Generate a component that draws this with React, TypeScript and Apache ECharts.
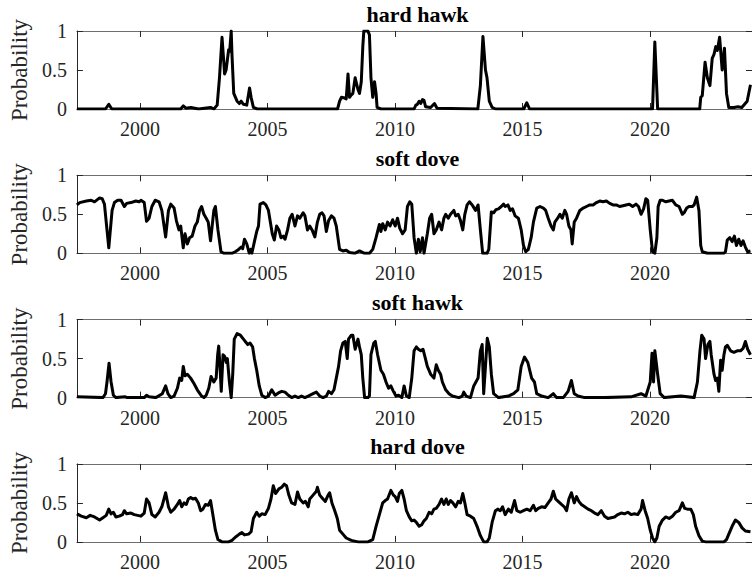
import React, { useEffect, useRef } from "react";
import * as echarts from "echarts";

// Regime probabilities, [decimal year, probability]
const hardHawk: [number, number][] = [
  [1997.53,0],[1998.65,0],[1998.78,0.06],[1998.9,0],[2001.6,0],[2001.7,0.04],[2001.8,0.01],[2002.0,0.02],[2002.3,0],[2002.77,0.02],[2002.9,0],[2003.03,0.05],[2003.12,0.4],[2003.22,0.92],[2003.29,0.6],[2003.32,0.45],[2003.38,0.5],[2003.48,0.76],[2003.52,0.74],[2003.58,1.0],[2003.61,0.7],[2003.68,0.2],[2003.81,0.1],[2003.9,0.07],[2003.97,0.1],[2004.06,0.06],[2004.19,0.05],[2004.3,0.27],[2004.36,0.15],[2004.45,0.02],[2004.6,0],[2007.75,0],[2007.83,0.1],[2007.9,0.15],[2008.03,0.14],[2008.09,0.13],[2008.16,0.45],[2008.22,0.15],[2008.29,0.18],[2008.35,0.2],[2008.44,0.4],[2008.55,0.25],[2008.61,0.2],[2008.68,0.35],[2008.74,0.8],[2008.78,1.0],[2008.94,1.0],[2009.0,0.95],[2009.06,0.4],[2009.13,0.15],[2009.2,0.35],[2009.26,0.2],[2009.3,0.02],[2009.45,0],[2010.75,0],[2010.82,0.05],[2010.88,0.06],[2010.95,0.1],[2011.01,0.07],[2011.08,0.12],[2011.14,0.11],[2011.2,0.03],[2011.4,0.02],[2011.55,0.07],[2011.65,0.01],[2013.25,0],[2013.35,0.3],[2013.45,0.93],[2013.55,0.5],[2013.61,0.4],[2013.7,0.1],[2013.81,0.02],[2013.95,0],[2015.05,0],[2015.17,0.08],[2015.28,0],[2020.1,0],[2020.19,0.86],[2020.3,0],[2021.95,0],[2021.99,0.15],[2022.05,0.17],[2022.16,0.6],[2022.25,0.4],[2022.35,0.3],[2022.44,0.65],[2022.51,0.7],[2022.58,0.8],[2022.64,0.75],[2022.73,0.92],[2022.83,0.5],[2022.92,0.78],[2023.0,0.2],[2023.09,0.02],[2023.3,0.02],[2023.45,0.03],[2023.6,0.02],[2023.81,0.1],[2023.94,0.31],
];

const softDove: [number, number][] = [
  [1997.53,0.62],[1997.64,0.65],[1997.9,0.67],[1998.09,0.68],[1998.22,0.66],[1998.42,0.71],[1998.52,0.7],[1998.61,0.63],[1998.78,0.07],[1998.91,0.55],[1999.0,0.65],[1999.13,0.68],[1999.26,0.68],[1999.39,0.6],[1999.48,0.64],[1999.65,0.65],[1999.84,0.67],[1999.97,0.66],[2000.04,0.68],[2000.17,0.65],[2000.26,0.41],[2000.36,0.45],[2000.47,0.6],[2000.6,0.68],[2000.75,0.66],[2000.86,0.55],[2001.01,0.21],[2001.12,0.55],[2001.21,0.63],[2001.34,0.58],[2001.43,0.42],[2001.53,0.3],[2001.6,0.35],[2001.7,0.07],[2001.77,0.25],[2001.86,0.12],[2001.95,0.2],[2002.05,0.22],[2002.16,0.35],[2002.25,0.4],[2002.34,0.55],[2002.42,0.6],[2002.51,0.5],[2002.6,0.45],[2002.68,0.4],[2002.77,0.16],[2002.9,0.55],[2002.96,0.6],[2003.06,0.3],[2003.18,0.02],[2003.3,0],[2003.61,0],[2003.74,0.02],[2003.87,0.05],[2003.97,0.08],[2004.03,0.06],[2004.1,0.18],[2004.19,0.12],[2004.29,0],[2004.35,0.05],[2004.39,0],[2004.49,0.15],[2004.58,0.28],[2004.65,0.35],[2004.71,0.63],[2004.84,0.65],[2004.94,0.62],[2005.04,0.55],[2005.19,0.25],[2005.27,0.17],[2005.36,0.35],[2005.45,0.3],[2005.53,0.2],[2005.62,0.22],[2005.69,0.18],[2005.79,0.3],[2005.88,0.45],[2005.97,0.5],[2006.08,0.35],[2006.18,0.48],[2006.27,0.45],[2006.4,0.52],[2006.47,0.48],[2006.57,0.3],[2006.66,0.35],[2006.75,0.3],[2006.86,0.21],[2006.96,0.4],[2007.05,0.5],[2007.14,0.52],[2007.22,0.48],[2007.31,0.28],[2007.4,0.42],[2007.51,0.48],[2007.61,0.45],[2007.7,0.35],[2007.83,0.05],[2007.96,0.03],[2008.09,0.04],[2008.22,0.01],[2008.42,0],[2008.61,0.03],[2008.81,0],[2009.0,0],[2009.13,0.05],[2009.26,0.2],[2009.39,0.37],[2009.45,0.28],[2009.52,0.38],[2009.62,0.3],[2009.71,0.4],[2009.81,0.35],[2009.91,0.43],[2010.01,0.35],[2010.1,0.45],[2010.19,0.32],[2010.3,0.25],[2010.4,0.3],[2010.49,0.6],[2010.58,0.66],[2010.66,0.63],[2010.75,0.2],[2010.84,0],[2010.92,0.18],[2010.99,0.02],[2011.08,0.2],[2011.14,0],[2011.27,0.25],[2011.36,0.45],[2011.44,0.5],[2011.53,0.25],[2011.62,0.3],[2011.73,0.4],[2011.83,0.3],[2011.92,0.45],[2011.99,0.5],[2012.09,0.45],[2012.18,0.5],[2012.31,0.55],[2012.38,0.48],[2012.48,0.5],[2012.57,0.42],[2012.66,0.3],[2012.74,0.5],[2012.83,0.62],[2012.92,0.66],[2013.03,0.62],[2013.16,0.55],[2013.26,0.62],[2013.35,0.3],[2013.44,0],[2013.61,0],[2013.68,0.05],[2013.78,0.53],[2013.87,0.52],[2013.96,0.56],[2014.06,0.57],[2014.17,0.6],[2014.26,0.63],[2014.32,0.6],[2014.43,0.62],[2014.52,0.55],[2014.61,0.57],[2014.71,0.48],[2014.84,0.45],[2014.95,0.3],[2015.04,0.1],[2015.13,0.02],[2015.23,0.05],[2015.34,0.2],[2015.43,0.4],[2015.56,0.58],[2015.69,0.6],[2015.82,0.58],[2015.91,0.55],[2016.01,0.45],[2016.12,0.35],[2016.21,0.3],[2016.27,0.4],[2016.38,0.45],[2016.47,0.5],[2016.56,0.45],[2016.66,0.55],[2016.73,0.5],[2016.82,0.35],[2016.9,0.3],[2016.95,0.12],[2017.03,0.4],[2017.12,0.45],[2017.25,0.55],[2017.38,0.58],[2017.51,0.6],[2017.64,0.62],[2017.77,0.62],[2017.9,0.65],[2018.03,0.67],[2018.16,0.66],[2018.29,0.67],[2018.42,0.64],[2018.55,0.62],[2018.68,0.62],[2018.81,0.6],[2018.94,0.61],[2019.06,0.62],[2019.19,0.63],[2019.32,0.6],[2019.45,0.63],[2019.55,0.6],[2019.65,0.5],[2019.75,0.57],[2019.84,0.7],[2019.91,0.68],[2020.01,0.3],[2020.1,0.02],[2020.19,0],[2020.27,0.2],[2020.32,0.6],[2020.4,0.68],[2020.49,0.68],[2020.62,0.66],[2020.75,0.67],[2020.88,0.68],[2021.01,0.62],[2021.14,0.6],[2021.27,0.5],[2021.34,0.52],[2021.44,0.58],[2021.53,0.6],[2021.66,0.6],[2021.73,0.62],[2021.83,0.72],[2021.92,0.55],[2021.99,0.1],[2022.05,0.02],[2022.25,0],[2022.9,0],[2022.96,0.02],[2023.03,0.17],[2023.13,0.2],[2023.22,0.15],[2023.31,0.22],[2023.39,0.1],[2023.48,0.18],[2023.57,0.1],[2023.65,0.16],[2023.74,0.08],[2023.83,0.02],[2023.94,0.03],
];

const softHawk: [number, number][] = [
  [1997.53,0.01],[1998.55,0],[1998.65,0.05],[1998.71,0.2],[1998.79,0.44],[1998.87,0.2],[1998.96,0.03],[1999.06,0],[1999.43,0.01],[1999.5,0],[2000.17,0],[2000.26,0.03],[2000.36,0.01],[2000.62,0],[2000.88,0.05],[2001.01,0.15],[2001.1,0.05],[2001.21,0],[2001.34,0.02],[2001.47,0.12],[2001.56,0.25],[2001.64,0.22],[2001.7,0.4],[2001.77,0.28],[2001.86,0.3],[2001.99,0.25],[2002.12,0.18],[2002.25,0.1],[2002.42,0.02],[2002.51,0],[2002.6,0.03],[2002.7,0.12],[2002.79,0.27],[2002.9,0.2],[2002.99,0.25],[2003.05,0.55],[2003.09,0.66],[2003.14,0.4],[2003.19,0.08],[2003.26,0.55],[2003.32,0.53],[2003.39,0.45],[2003.43,0.5],[2003.51,0.2],[2003.58,0],[2003.64,0.3],[2003.7,0.75],[2003.81,0.82],[2003.94,0.8],[2004.06,0.75],[2004.13,0.72],[2004.23,0.68],[2004.32,0.7],[2004.42,0.65],[2004.49,0.5],[2004.58,0.35],[2004.68,0.15],[2004.78,0.03],[2004.91,0],[2005.04,0.02],[2005.17,0.1],[2005.3,0.03],[2005.43,0.06],[2005.56,0.08],[2005.69,0.07],[2005.82,0.03],[2005.95,0],[2006.08,0.02],[2006.21,0],[2006.34,0.02],[2006.47,0],[2006.6,0.02],[2006.79,0.05],[2006.92,0.07],[2007.05,0.02],[2007.18,0],[2007.31,0.02],[2007.4,0.08],[2007.51,0.05],[2007.61,0.1],[2007.7,0.25],[2007.79,0.4],[2007.87,0.6],[2007.96,0.7],[2008.05,0.72],[2008.13,0.5],[2008.18,0.75],[2008.29,0.8],[2008.35,0.8],[2008.44,0.62],[2008.55,0.75],[2008.61,0.65],[2008.68,0.55],[2008.74,0.25],[2008.81,0],[2008.94,0],[2009.0,0.02],[2009.06,0.55],[2009.17,0.7],[2009.23,0.72],[2009.32,0.55],[2009.45,0.35],[2009.55,0.3],[2009.65,0.2],[2009.75,0.12],[2009.84,0.15],[2009.94,0.08],[2010.04,0.02],[2010.14,0.03],[2010.27,0],[2010.36,0.15],[2010.45,0.02],[2010.56,0],[2010.66,0.25],[2010.75,0.6],[2010.84,0.65],[2010.92,0.62],[2011.01,0.6],[2011.1,0.62],[2011.18,0.52],[2011.27,0.4],[2011.4,0.3],[2011.53,0.25],[2011.62,0.42],[2011.7,0.35],[2011.79,0.3],[2011.86,0.2],[2011.99,0.1],[2012.12,0.05],[2012.25,0.02],[2012.51,0],[2012.64,0.02],[2012.7,0.07],[2012.79,0.02],[2012.96,0],[2013.09,0.15],[2013.26,0.25],[2013.35,0.6],[2013.42,0.68],[2013.48,0.05],[2013.55,0.4],[2013.62,0.76],[2013.7,0.65],[2013.78,0.3],[2013.87,0.05],[2014.06,0],[2014.45,0.02],[2014.65,0.05],[2014.82,0.1],[2014.95,0.4],[2015.08,0.52],[2015.21,0.45],[2015.36,0.25],[2015.47,0.2],[2015.56,0.05],[2015.75,0.02],[2016.01,0],[2016.21,0.05],[2016.34,0],[2016.6,0],[2016.79,0.08],[2016.92,0.22],[2017.03,0.05],[2017.18,0.02],[2017.44,0],[2018.22,0],[2019.26,0.01],[2019.65,0.05],[2019.84,0.02],[2020.01,0.2],[2020.08,0.57],[2020.14,0.2],[2020.19,0.6],[2020.3,0.3],[2020.4,0.05],[2020.56,0],[2021.21,0.02],[2021.73,0],[2021.86,0.2],[2021.96,0.6],[2022.03,0.8],[2022.12,0.75],[2022.18,0.5],[2022.27,0.68],[2022.35,0.72],[2022.4,0.55],[2022.51,0.3],[2022.57,0.22],[2022.64,0.25],[2022.7,0.08],[2022.77,0.48],[2022.83,0.35],[2022.9,0.55],[2022.96,0.65],[2023.03,0.67],[2023.16,0.6],[2023.29,0.58],[2023.42,0.6],[2023.55,0.6],[2023.65,0.63],[2023.74,0.72],[2023.83,0.62],[2023.94,0.55],
];

const hardDove: [number, number][] = [
  [1997.53,0.36],[1997.7,0.33],[1997.9,0.31],[1998.05,0.34],[1998.22,0.32],[1998.42,0.28],[1998.55,0.31],[1998.68,0.34],[1998.78,0.42],[1998.87,0.36],[1998.96,0.38],[1999.06,0.32],[1999.19,0.33],[1999.32,0.35],[1999.39,0.4],[1999.48,0.36],[1999.65,0.37],[1999.78,0.35],[1999.91,0.34],[2000.04,0.33],[2000.17,0.37],[2000.26,0.55],[2000.36,0.5],[2000.47,0.35],[2000.6,0.32],[2000.75,0.38],[2000.86,0.45],[2001.01,0.63],[2001.12,0.45],[2001.21,0.38],[2001.34,0.42],[2001.47,0.48],[2001.56,0.53],[2001.64,0.45],[2001.73,0.5],[2001.82,0.48],[2001.9,0.55],[2001.99,0.57],[2002.08,0.55],[2002.18,0.56],[2002.29,0.5],[2002.38,0.4],[2002.47,0.42],[2002.57,0.48],[2002.68,0.47],[2002.77,0.53],[2002.86,0.35],[2002.96,0.15],[2003.06,0.03],[2003.22,0],[2003.48,0],[2003.61,0.02],[2003.74,0.06],[2003.9,0.1],[2004.0,0.12],[2004.1,0.09],[2004.26,0.1],[2004.36,0.13],[2004.45,0.3],[2004.58,0.38],[2004.68,0.33],[2004.78,0.36],[2004.91,0.35],[2005.04,0.43],[2005.14,0.55],[2005.23,0.72],[2005.32,0.62],[2005.45,0.68],[2005.56,0.7],[2005.66,0.74],[2005.75,0.72],[2005.84,0.6],[2005.95,0.5],[2006.08,0.48],[2006.18,0.64],[2006.27,0.55],[2006.4,0.5],[2006.49,0.52],[2006.6,0.45],[2006.66,0.55],[2006.79,0.6],[2006.92,0.65],[2006.96,0.7],[2007.05,0.6],[2007.18,0.55],[2007.27,0.52],[2007.38,0.6],[2007.44,0.63],[2007.53,0.5],[2007.64,0.4],[2007.74,0.3],[2007.83,0.15],[2007.96,0.1],[2008.09,0.05],[2008.29,0.02],[2008.55,0],[2008.94,0],[2009.13,0.03],[2009.26,0.2],[2009.39,0.35],[2009.52,0.5],[2009.62,0.53],[2009.71,0.55],[2009.84,0.66],[2009.94,0.6],[2010.01,0.58],[2010.1,0.52],[2010.17,0.62],[2010.27,0.66],[2010.36,0.55],[2010.45,0.4],[2010.56,0.32],[2010.66,0.27],[2010.75,0.28],[2010.84,0.25],[2010.95,0.2],[2011.05,0.22],[2011.14,0.27],[2011.23,0.3],[2011.34,0.38],[2011.44,0.36],[2011.53,0.42],[2011.62,0.43],[2011.73,0.48],[2011.83,0.55],[2011.92,0.48],[2012.01,0.55],[2012.09,0.48],[2012.18,0.53],[2012.27,0.5],[2012.38,0.45],[2012.48,0.52],[2012.57,0.5],[2012.66,0.62],[2012.74,0.5],[2012.83,0.35],[2012.96,0.33],[2013.09,0.3],[2013.22,0.2],[2013.35,0.08],[2013.48,0],[2013.61,0],[2013.7,0.05],[2013.81,0.25],[2013.94,0.4],[2014.04,0.42],[2014.13,0.4],[2014.22,0.45],[2014.32,0.35],[2014.45,0.42],[2014.56,0.38],[2014.69,0.53],[2014.78,0.4],[2014.91,0.38],[2015.04,0.4],[2015.17,0.42],[2015.3,0.4],[2015.43,0.47],[2015.52,0.4],[2015.62,0.43],[2015.75,0.45],[2015.88,0.44],[2016.01,0.5],[2016.12,0.55],[2016.21,0.65],[2016.3,0.55],[2016.4,0.52],[2016.53,0.48],[2016.64,0.45],[2016.73,0.4],[2016.82,0.55],[2016.92,0.63],[2017.03,0.5],[2017.12,0.58],[2017.21,0.52],[2017.31,0.48],[2017.44,0.45],[2017.57,0.42],[2017.7,0.4],[2017.83,0.37],[2017.96,0.35],[2018.09,0.4],[2018.22,0.33],[2018.35,0.3],[2018.48,0.31],[2018.61,0.32],[2018.74,0.35],[2018.87,0.37],[2019.0,0.36],[2019.13,0.38],[2019.26,0.35],[2019.39,0.36],[2019.52,0.35],[2019.65,0.42],[2019.71,0.53],[2019.81,0.4],[2019.91,0.3],[2020.01,0.15],[2020.1,0.05],[2020.19,0],[2020.27,0.05],[2020.36,0.2],[2020.49,0.28],[2020.62,0.32],[2020.75,0.3],[2020.88,0.33],[2021.01,0.38],[2021.14,0.4],[2021.27,0.5],[2021.36,0.43],[2021.47,0.42],[2021.6,0.42],[2021.7,0.35],[2021.79,0.2],[2021.92,0.08],[2022.05,0.01],[2022.18,0],[2022.9,0],[2023.0,0.03],[2023.09,0.1],[2023.22,0.2],[2023.35,0.28],[2023.48,0.25],[2023.61,0.18],[2023.74,0.14],[2023.94,0.13],
];

const panelTitles = ["hard hawk", "soft dove", "soft hawk", "hard dove"];
const panelData = [hardHawk, softDove, softHawk, hardDove];
const yearTicks = [2000, 2005, 2010, 2015, 2020];
const probTicks = [0, 0.5, 1];
const xMin = 1997.53;
const xMax = 2024.0;

const FONT = "'Liberation Serif', 'Times New Roman', serif";
const AXIS_COLOR = "#262626";
const BOX_COLOR = "#6e6e6e";

export default function App() {
  const ref = useRef<HTMLDivElement>(null);

  useEffect(() => {
    if (!ref.current) return;
    const chart = echarts.init(ref.current, undefined, { renderer: "svg" });

    const left = 74;
    const width = 679.5;
    const height = 78;
    const firstTop = 31;
    const step = 144.3;

    const grids: any[] = [];
    const xAxes: any[] = [];
    const yAxes: any[] = [];
    const titles: any[] = [];
    const series: any[] = [];

    panelData.forEach((data, i) => {
      const top = firstTop + i * step;
      grids.push({ left, top, width, height, containLabel: false });
      titles.push({
        text: panelTitles[i],
        left: 412.5,
        top: top - 33,
        textAlign: "center",
        textStyle: { fontFamily: FONT, fontSize: 22, fontWeight: "bold", color: "#000" },
      });
      const tickStyle = { inside: true, length: 6, lineStyle: { color: AXIS_COLOR, width: 1 } };
      xAxes.push({
        gridIndex: i,
        type: "value",
        position: "bottom",
        min: xMin,
        max: xMax,
        axisLine: { show: true, onZero: false, lineStyle: { color: BOX_COLOR, width: 1 } },
        axisTick: { ...tickStyle, customValues: yearTicks },
        axisLabel: {
          customValues: yearTicks,
          formatter: (v: number) => String(v),
          fontFamily: FONT,
          fontSize: 20,
          color: AXIS_COLOR,
          margin: 10,
        },
        splitLine: { show: false },
      });
      xAxes.push({
        gridIndex: i,
        type: "value",
        position: "top",
        min: xMin,
        max: xMax,
        axisLine: { show: true, onZero: false, lineStyle: { color: BOX_COLOR, width: 1 } },
        axisTick: { ...tickStyle, customValues: yearTicks },
        axisLabel: { show: false },
        splitLine: { show: false },
      });
      yAxes.push({
        gridIndex: i,
        type: "value",
        position: "left",
        min: 0,
        max: 1,
        interval: 0.5,
        axisLine: { show: true, onZero: false, lineStyle: { color: AXIS_COLOR, width: 1 } },
        axisTick: { ...tickStyle, customValues: probTicks },
        axisLabel: {
          customValues: probTicks,
          formatter: (v: number) => String(v),
          fontFamily: FONT,
          fontSize: 20,
          color: AXIS_COLOR,
          margin: 10,
        },
        splitLine: { show: false },
        name: "Probability",
        nameLocation: "middle",
        nameRotate: 90,
        nameGap: 37,
        nameTextStyle: { fontFamily: FONT, fontSize: 23, color: AXIS_COLOR },
      });
      yAxes.push({
        gridIndex: i,
        type: "value",
        position: "right",
        min: 0,
        max: 1,
        interval: 0.5,
        axisLine: { show: true, onZero: false, lineStyle: { color: AXIS_COLOR, width: 1 } },
        axisTick: { ...tickStyle, customValues: probTicks },
        axisLabel: { show: false },
        splitLine: { show: false },
      });
      series.push({
        type: "line",
        xAxisIndex: i * 2,
        yAxisIndex: i * 2,
        data,
        showSymbol: false,
        symbol: "none",
        lineStyle: { color: "#000", width: 3, join: "round" },
        clip: true,
      });
    });

    chart.setOption({
      animation: false,
      backgroundColor: "#fff",
      title: titles,
      grid: grids,
      xAxis: xAxes,
      yAxis: yAxes,
      series,
    });

    return () => chart.dispose();
  }, []);

  return (
    <div
      ref={ref}
      style={{ position: "fixed", left: 0, top: 0, width: 752, height: 577, background: "#fff" }}
    />
  );
}
